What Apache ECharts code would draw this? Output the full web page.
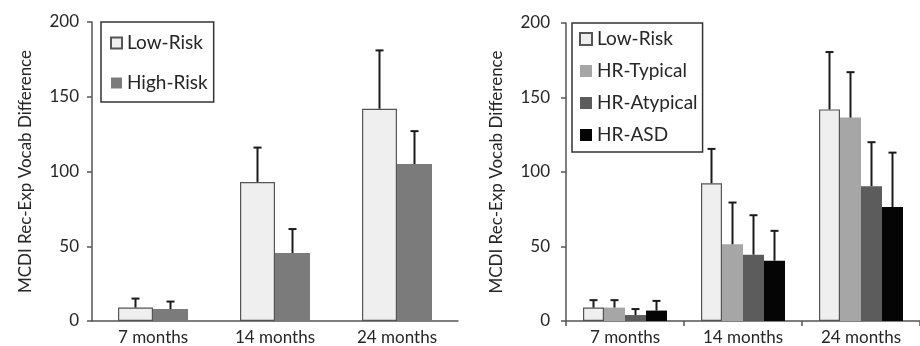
<!DOCTYPE html>
<html><head><meta charset="utf-8">
<script src="https://cdn.jsdelivr.net/npm/echarts@6/dist/echarts.min.js"></script>
<style>html,body{margin:0;padding:0;background:#fff}#c{width:920px;height:346px}</style>
</head><body><div id="c"></div>
<script>
// ---- data ----
const categories = ['7 months', '14 months', '24 months'];
// left panel
const leftLowRisk = [9, 93, 142];
const leftLowRiskErr = [15, 116, 181];
const leftHighRisk = [8, 45.5, 105];
const leftHighRiskErr = [13, 61.5, 127];
// right panel
const rightLowRisk = [9, 92.5, 142];
const rightLowRiskErr = [14, 115.5, 180.5];
const rightHRTypical = [9, 51.5, 136.5];
const rightHRTypicalErr = [14, 79.5, 167];
const rightHRAtypical = [4, 44.5, 90.5];
const rightHRAtypicalErr = [8, 71, 120];
const rightHRASD = [7, 40.5, 76.5];
const rightHRASDErr = [13.5, 60.5, 113];
const yTicks = [0, 50, 100, 150, 200];
const yTitle = 'MCDI Rec-Exp Vocab Difference';

const FONT = 'Lato';
const TXT = '#262626';
const AX = '#555';

function errSeries(vals, errs, idx, n, barW, axisIdx) {
  return {
    type: 'custom', xAxisIndex: axisIdx, yAxisIndex: axisIdx, z: 5, silent: true,
    data: vals.map((v, i) => [i, v, errs[i]]),
    renderItem: function (params, api) {
      const base = api.coord([api.value(0), api.value(1)]);
      const top = api.coord([api.value(0), api.value(2)]);
      const off = (idx - (n - 1) / 2) * barW;
      const x = base[0] + off;
      const st = { stroke: '#1a1a1a', lineWidth: 2 };
      return { type: 'group', children: [
        { type: 'line', shape: { x1: x, y1: base[1], x2: x, y2: top[1] }, style: st },
        { type: 'line', shape: { x1: x - 4, y1: top[1], x2: x + 4, y2: top[1] }, style: st }
      ]};
    }
  };
}

function barSeries(name, vals, color, axisIdx, barW, border) {
  return {
    type: 'bar', name: name, xAxisIndex: axisIdx, yAxisIndex: axisIdx,
    data: vals, barWidth: barW, barGap: '0%',
    itemStyle: { color: color, borderColor: border ? '#555' : color, borderWidth: border ? 1.2 : 0 }
  };
}

function yAxis(gridIndex, margin, nameGap) {
  return {
    type: 'value', gridIndex: gridIndex, min: yTicks[0], max: yTicks[yTicks.length - 1], interval: 50,
    name: yTitle, nameLocation: 'middle', nameGap: nameGap,
    nameTextStyle: { fontFamily: FONT, fontSize: 17, color: TXT },
    axisLine: { show: true, lineStyle: { color: AX, width: 1.5 } },
    axisTick: { show: true, length: 5, lineStyle: { color: AX, width: 1.5 } },
    axisLabel: { fontFamily: FONT, fontSize: 17, color: TXT, margin: margin },
    splitLine: { show: false }
  };
}

function xAxis(gridIndex, ticks) {
  return {
    type: 'category', gridIndex: gridIndex, data: categories,
    axisLine: { show: true, lineStyle: { color: AX, width: 1.5 } },
    axisTick: { show: ticks, length: 5, lineStyle: { color: AX, width: 1.5 } },
    axisLabel: { fontFamily: FONT, fontSize: 17, color: TXT, margin: 8 }
  };
}

const legendText = { fontFamily: FONT, fontSize: 19, color: TXT, lineHeight: 20 };

const chart = echarts.init(document.getElementById('c'), null, { renderer: 'canvas' });
chart.setOption({
  animation: false,
  grid: [
    { left: 92, top: 22, width: 366, height: 300 },
    { left: 566, top: 23, width: 354, height: 300 }
  ],
  xAxis: [xAxis(0, false), xAxis(1, true)],
  yAxis: [yAxis(0, 13, 58), yAxis(1, 16, 61)],
  legend: [
    {
      data: ['Low-Risk', 'High-Risk'], orient: 'vertical', left: 101, top: 22,
      padding: [11, 6, 9, 9], itemGap: 20, itemWidth: 11, itemHeight: 11, icon: 'rect',
      borderColor: '#333', borderWidth: 1.5, textStyle: legendText
    },
    {
      data: ['Low-Risk ', 'HR-Typical', 'HR-Atypical', 'HR-ASD'], orient: 'vertical', left: 572, top: 23,
      padding: [6, 5, 7, 7], itemGap: 12, itemWidth: 12, itemHeight: 12, icon: 'rect',
      borderColor: '#333', borderWidth: 1.5, textStyle: legendText
    }
  ],
  series: [
    barSeries('Low-Risk', leftLowRisk, '#efefef', 0, 35, true),
    barSeries('High-Risk', leftHighRisk, '#7b7b7b', 0, 35, false),
    errSeries(leftLowRisk, leftLowRiskErr, 0, 2, 35, 0),
    errSeries(leftHighRisk, leftHighRiskErr, 1, 2, 35, 0),
    barSeries('Low-Risk ', rightLowRisk, '#efefef', 1, 21, true),
    barSeries('HR-Typical', rightHRTypical, '#a6a6a6', 1, 21, false),
    barSeries('HR-Atypical', rightHRAtypical, '#5c5c5c', 1, 21, false),
    barSeries('HR-ASD', rightHRASD, '#050505', 1, 21, false),
    errSeries(rightLowRisk, rightLowRiskErr, 0, 4, 21, 1),
    errSeries(rightHRTypical, rightHRTypicalErr, 1, 4, 21, 1),
    errSeries(rightHRAtypical, rightHRAtypicalErr, 2, 4, 21, 1),
    errSeries(rightHRASD, rightHRASDErr, 3, 4, 21, 1)
  ]
});
</script>
</body></html>
